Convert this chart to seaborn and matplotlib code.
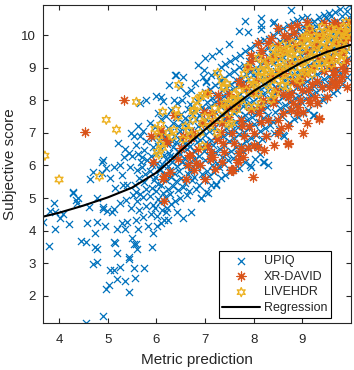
import numpy as np
import pandas as pd
import seaborn as sns
import matplotlib
matplotlib.use("Agg")
from matplotlib import pyplot as plt

# series names and colours (MATLAB default order)
series_names = ["UPIQ", "XR-DAVID", "LIVEHDR"]
series_colors = ["#0072BD", "#D95319", "#EDB120"]

x_ticks = [4, 5, 6, 7, 8, 9]
y_ticks = [2, 3, 4, 5, 6, 7, 8, 9, 10]

# UPIQ points (metric prediction, subjective score)
upiq_pts = [
    # sparse low-left part
    (3.67, 4.28), (3.90, 4.86), (3.81, 4.59), (4.02, 4.40), (3.92, 4.04), (3.79, 3.52),
    (4.21, 4.22), (4.29, 5.17), (4.39, 5.01), (4.37, 4.86), (4.58, 4.25), (4.45, 3.67),
    (4.56, 3.64), (4.70, 2.97), (4.78, 3.03), (4.74, 3.49), (4.79, 3.43), (4.73, 3.94),
    (4.79, 4.28), (4.78, 5.01), (4.62, 4.74), (4.91, 4.65), (4.99, 4.59), (5.09, 4.56),
    (4.95, 4.13), (5.05, 2.81), (5.12, 2.81), (4.97, 2.20), (5.03, 2.32), (5.20, 2.51),
    (5.26, 2.90), (5.20, 3.33), (5.14, 3.61), (5.30, 4.25), (5.36, 4.04), (5.20, 4.04),
    (5.40, 4.28), (5.36, 2.45), (5.43, 2.11), (5.43, 3.12), (5.53, 2.87), (5.57, 2.54),
    (5.59, 3.58), (5.61, 3.43), (5.49, 3.79), (5.74, 2.87), (5.92, 3.49), (4.91, 1.38),
    (4.56, 1.16), (5.63, 4.04), (5.82, 4.13), (5.94, 3.94), (6.02, 4.13), (6.15, 4.34),
    (6.19, 4.56), (5.12, 3.64), (5.43, 3.18), (5.53, 3.58), (4.91, 6.18), (4.70, 5.81),
    (4.29, 5.20), (4.35, 4.95), (3.92, 4.56), (4.08, 4.50), (5.22, 6.70), (5.26, 6.02),
    (5.05, 5.63), (4.97, 5.93), (5.47, 7.00), (5.32, 5.41), (5.59, 5.20), (4.91, 4.74),
    (5.12, 4.65), (5.38, 4.95), (5.30, 5.70), (5.45, 5.95), (5.50, 6.30), (5.35, 6.50),
    (5.48, 4.70), (5.52, 5.10), (5.40, 5.40), (5.15, 5.30), (5.25, 4.85), (5.53, 6.91),
    (5.43, 6.39), (5.71, 6.27), (4.89, 6.12), (4.89, 5.78), (4.64, 5.57), (5.12, 5.96),
    (5.33, 6.27), (5.78, 8.01), (5.67, 7.92), (6.09, 8.10), (6.36, 8.01), (6.25, 8.47),
    (6.54, 4.40), (6.71, 4.56), (6.91, 5.01), (7.06, 5.17), (7.22, 5.41), (6.09, 4.25),
    (6.23, 4.34), (7.95, 5.96), (8.30, 6.02), (8.19, 6.12), (7.70, 5.93), (9.23, 7.55),
    (8.61, 6.94), (9.45, 8.10), (7.14, 9.36), (6.85, 9.08), (6.98, 8.93), (6.95, 8.72),
    (6.54, 8.72), (7.02, 8.56), (6.40, 8.78), (7.33, 8.62), (8.40, 10.36), (8.15, 10.18),
    (7.88, 10.09),
    # dense band
    (5.58, 4.32), (5.64, 4.63), (5.61, 4.92), (5.67, 5.14), (5.57, 5.41), (5.65, 5.62),
    (5.60, 5.87), (5.68, 6.12), (5.62, 6.36), (5.59, 6.63), (5.66, 6.91), (5.63, 7.22),
    (5.73, 4.41), (5.78, 4.77), (5.72, 5.03), (5.79, 5.27), (5.74, 5.49), (5.77, 5.73),
    (5.71, 5.96), (5.80, 6.18), (5.75, 6.47), (5.78, 6.74), (5.73, 7.06),
    (5.88, 4.52), (5.93, 4.79), (5.86, 5.06), (5.91, 5.31), (5.95, 5.54), (5.87, 5.82),
    (5.92, 6.01), (5.89, 6.29), (5.94, 6.56), (5.90, 6.84), (5.86, 7.31),
    (6.02, 4.46), (5.98, 4.71), (6.04, 4.98), (6.00, 5.22), (6.03, 5.44), (5.97, 5.66),
    (6.05, 5.91), (6.01, 6.09), (5.99, 6.37), (6.04, 6.61), (6.02, 6.92), (5.98, 7.19),
    (6.03, 7.62), (6.00, 8.12),
    (6.12, 4.62), (6.08, 4.88), (6.14, 5.16), (6.09, 5.39), (6.13, 5.61), (6.07, 5.86),
    (6.11, 6.04), (6.15, 6.31), (6.10, 6.52), (6.06, 6.76), (6.12, 7.01), (6.09, 7.41),
    (6.14, 7.98),
    (6.22, 4.69), (6.18, 5.02), (6.24, 5.29), (6.20, 5.56), (6.17, 5.74), (6.23, 5.97),
    (6.19, 6.21), (6.25, 6.39), (6.21, 6.66), (6.18, 6.88), (6.24, 7.16), (6.20, 7.52),
    (6.31, 4.81), (6.28, 5.12), (6.34, 5.38), (6.30, 5.66), (6.27, 5.86), (6.33, 6.11),
    (6.29, 6.29), (6.35, 6.57), (6.32, 6.74), (6.28, 7.02), (6.34, 7.29), (6.30, 7.71),
    (6.42, 4.56), (6.38, 4.91), (6.44, 5.24), (6.40, 5.51), (6.37, 5.76), (6.43, 5.99),
    (6.39, 6.22), (6.45, 6.44), (6.41, 6.71), (6.38, 6.94), (6.44, 7.21), (6.40, 7.49),
    (6.42, 7.91), (6.39, 8.76),
    (6.48, 5.01), (6.54, 5.34), (6.50, 5.62), (6.47, 5.84), (6.53, 6.12), (6.49, 6.34),
    (6.55, 6.56), (6.51, 6.79), (6.48, 7.06), (6.54, 7.31), (6.50, 7.59), (6.52, 8.01),
    (6.49, 8.41),
    (6.62, 5.09), (6.58, 5.46), (6.64, 5.74), (6.60, 6.02), (6.57, 6.24), (6.63, 6.51),
    (6.59, 6.69), (6.65, 6.96), (6.61, 7.19), (6.58, 7.46), (6.64, 7.74), (6.60, 8.21),
    (6.68, 5.21), (6.74, 5.54), (6.70, 5.86), (6.67, 6.09), (6.73, 6.36), (6.69, 6.59),
    (6.75, 6.86), (6.71, 7.09), (6.68, 7.36), (6.74, 7.61), (6.70, 7.89), (6.72, 8.31),
    (6.82, 5.29), (6.78, 5.66), (6.84, 5.94), (6.80, 6.21), (6.77, 6.44), (6.83, 6.71),
    (6.79, 6.94), (6.85, 7.21), (6.81, 7.44), (6.78, 7.71), (6.84, 7.99), (6.80, 8.52),
    (6.92, 4.99), (6.88, 5.41), (6.94, 5.74), (6.90, 6.06), (6.87, 6.29), (6.93, 6.56),
    (6.89, 6.79), (6.95, 7.06), (6.91, 7.29), (6.88, 7.56), (6.94, 7.79), (6.90, 8.11),
    (7.02, 5.19), (6.98, 5.56), (7.04, 5.84), (7.00, 6.16), (6.97, 6.44), (7.03, 6.71),
    (6.99, 6.94), (7.05, 7.21), (7.01, 7.44), (6.98, 7.71), (7.04, 7.94), (7.00, 8.26),
    (7.02, 8.59), (6.99, 9.31),
    (7.12, 5.41), (7.08, 5.69), (7.14, 6.01), (7.10, 6.29), (7.07, 6.56), (7.13, 6.79),
    (7.09, 7.06), (7.15, 7.29), (7.11, 7.56), (7.08, 7.79), (7.14, 8.06), (7.10, 8.34),
    (7.12, 8.76),
    (7.22, 5.44), (7.18, 5.81), (7.24, 6.09), (7.20, 6.41), (7.17, 6.64), (7.23, 6.91),
    (7.19, 7.14), (7.25, 7.41), (7.21, 7.64), (7.18, 7.91), (7.24, 8.14), (7.20, 8.46),
    (7.22, 8.84),
    (7.32, 5.61), (7.28, 5.94), (7.34, 6.26), (7.30, 6.49), (7.27, 6.81), (7.33, 7.04),
    (7.29, 7.31), (7.35, 7.54), (7.31, 7.81), (7.28, 8.04), (7.34, 8.31), (7.30, 8.59),
    (7.32, 9.01), (7.29, 9.51),
    (7.42, 5.71), (7.38, 6.04), (7.44, 6.36), (7.40, 6.64), (7.37, 6.91), (7.43, 7.14),
    (7.39, 7.41), (7.45, 7.64), (7.41, 7.91), (7.38, 8.14), (7.44, 8.41), (7.40, 8.69),
    (7.42, 9.11),
    (7.52, 5.79), (7.48, 6.16), (7.54, 6.44), (7.50, 6.76), (7.47, 6.99), (7.53, 7.26),
    (7.49, 7.49), (7.55, 7.76), (7.51, 7.99), (7.48, 8.26), (7.54, 8.49), (7.50, 8.81),
    (7.52, 9.19), (7.49, 9.71),
    (7.62, 5.91), (7.58, 6.24), (7.64, 6.56), (7.60, 6.84), (7.57, 7.11), (7.63, 7.34),
    (7.59, 7.61), (7.65, 7.84), (7.61, 8.11), (7.58, 8.34), (7.64, 8.61), (7.60, 8.89),
    (7.62, 9.31),
    (7.68, 6.36), (7.74, 6.64), (7.70, 6.96), (7.67, 7.19), (7.73, 7.46), (7.69, 7.69),
    (7.75, 7.96), (7.71, 8.19), (7.68, 8.46), (7.74, 8.69), (7.70, 9.01), (7.72, 9.39),
    (7.69, 10.11),
    (7.82, 6.11), (7.78, 6.44), (7.84, 6.76), (7.80, 7.04), (7.77, 7.31), (7.83, 7.54),
    (7.79, 7.81), (7.85, 8.04), (7.81, 8.31), (7.78, 8.54), (7.84, 8.81), (7.80, 9.09),
    (7.82, 9.51), (7.82, 10.43),
    (7.92, 6.01), (7.88, 6.56), (7.94, 6.84), (7.90, 7.16), (7.87, 7.39), (7.93, 7.66),
    (7.89, 7.89), (7.95, 8.16), (7.91, 8.39), (7.88, 8.66), (7.94, 8.89), (7.90, 9.21),
    (7.92, 9.59),
    (8.02, 6.19), (7.98, 6.61), (8.04, 6.94), (8.00, 7.26), (7.97, 7.49), (8.03, 7.76),
    (7.99, 7.99), (8.05, 8.26), (8.01, 8.49), (7.98, 8.76), (8.04, 8.99), (8.00, 9.31),
    (8.02, 9.69),
    (8.12, 6.36), (8.08, 6.69), (8.14, 7.06), (8.10, 7.34), (8.07, 7.61), (8.13, 7.84),
    (8.09, 8.11), (8.15, 8.34), (8.11, 8.61), (8.08, 8.84), (8.14, 9.11), (8.10, 9.39),
    (8.12, 9.81), (8.15, 10.30),
    (8.22, 6.11), (8.18, 6.81), (8.24, 7.14), (8.20, 7.46), (8.17, 7.69), (8.23, 7.96),
    (8.19, 8.19), (8.25, 8.46), (8.21, 8.69), (8.18, 8.96), (8.24, 9.19), (8.20, 9.51),
    (8.22, 9.84), (8.15, 10.52),
    (8.28, 6.91), (8.34, 7.24), (8.30, 7.56), (8.27, 7.79), (8.33, 8.06), (8.29, 8.29),
    (8.35, 8.56), (8.31, 8.79), (8.28, 9.06), (8.34, 9.29), (8.30, 9.61), (8.32, 9.89),
    (8.42, 6.99), (8.38, 7.36), (8.44, 7.64), (8.40, 7.91), (8.37, 8.14), (8.43, 8.41),
    (8.39, 8.64), (8.45, 8.91), (8.41, 9.14), (8.38, 9.41), (8.44, 9.69), (8.40, 10.01),
    (8.42, 10.41),
    (8.52, 7.11), (8.48, 7.44), (8.54, 7.76), (8.50, 7.99), (8.47, 8.26), (8.53, 8.49),
    (8.49, 8.76), (8.55, 8.99), (8.51, 9.26), (8.48, 9.49), (8.54, 9.81), (8.50, 10.09),
    (8.62, 6.91), (8.58, 7.51), (8.64, 7.84), (8.60, 8.11), (8.57, 8.34), (8.63, 8.61),
    (8.59, 8.84), (8.65, 9.11), (8.61, 9.34), (8.58, 9.61), (8.64, 9.89), (8.60, 10.21),
    (8.72, 7.29), (8.68, 7.66), (8.74, 7.94), (8.70, 8.21), (8.67, 8.44), (8.73, 8.71),
    (8.69, 8.94), (8.75, 9.21), (8.71, 9.44), (8.68, 9.71), (8.74, 9.99), (8.70, 10.31),
    (8.77, 10.76),
    (8.82, 7.41), (8.78, 7.74), (8.84, 8.06), (8.80, 8.29), (8.77, 8.56), (8.83, 8.79),
    (8.79, 9.06), (8.85, 9.29), (8.81, 9.56), (8.78, 9.79), (8.84, 10.11), (8.80, 10.39),
    (8.92, 7.49), (8.88, 7.86), (8.94, 8.14), (8.90, 8.41), (8.87, 8.64), (8.93, 8.91),
    (8.89, 9.14), (8.95, 9.41), (8.91, 9.64), (8.88, 9.91), (8.94, 10.19), (8.90, 10.46),
    (9.02, 7.61), (8.98, 7.94), (9.04, 8.26), (9.00, 8.49), (8.97, 8.76), (9.03, 8.99),
    (8.99, 9.26), (9.05, 9.49), (9.01, 9.76), (8.98, 9.99), (9.04, 10.26), (9.00, 10.51),
    (9.12, 7.71), (9.08, 8.04), (9.14, 8.36), (9.10, 8.59), (9.07, 8.86), (9.13, 9.09),
    (9.09, 9.36), (9.15, 9.59), (9.11, 9.86), (9.08, 10.09), (9.14, 10.36), (9.10, 10.56),
    (9.22, 7.56), (9.18, 8.16), (9.24, 8.44), (9.20, 8.71), (9.17, 8.94), (9.23, 9.21),
    (9.19, 9.44), (9.25, 9.71), (9.21, 9.94), (9.18, 10.21), (9.24, 10.44),
    (9.32, 7.91), (9.28, 8.24), (9.34, 8.56), (9.30, 8.79), (9.27, 9.06), (9.33, 9.29),
    (9.29, 9.56), (9.35, 9.79), (9.31, 10.06), (9.28, 10.29), (9.34, 10.54),
    (9.42, 8.01), (9.38, 8.36), (9.44, 8.64), (9.40, 8.91), (9.37, 9.14), (9.43, 9.41),
    (9.39, 9.64), (9.45, 9.91), (9.41, 10.14), (9.38, 10.41), (9.44, 10.61),
    (9.48, 8.46), (9.54, 8.74), (9.50, 9.01), (9.47, 9.24), (9.53, 9.51), (9.49, 9.74),
    (9.55, 10.01), (9.51, 10.24), (9.48, 10.51), (9.54, 10.69),
    (9.62, 8.21), (9.58, 8.54), (9.64, 8.86), (9.60, 9.09), (9.57, 9.36), (9.63, 9.59),
    (9.59, 9.86), (9.65, 10.09), (9.61, 10.36), (9.58, 10.59),
    (9.72, 8.31), (9.68, 8.66), (9.74, 8.94), (9.70, 9.21), (9.67, 9.44), (9.73, 9.71),
    (9.69, 9.94), (9.75, 10.21), (9.71, 10.44), (9.68, 10.71),
    (9.82, 8.49), (9.78, 8.81), (9.84, 9.09), (9.80, 9.36), (9.77, 9.59), (9.83, 9.86),
    (9.79, 10.09), (9.85, 10.36), (9.81, 10.59), (9.78, 10.79),
    (9.92, 8.71), (9.88, 8.99), (9.94, 9.31), (9.90, 9.54), (9.87, 9.81), (9.93, 10.04),
    (9.89, 10.31), (9.95, 10.56), (9.91, 10.74), (9.96, 10.91),
]

# XR-DAVID points
xrdavid_pts = [
    (4.54, 7.03), (5.34, 8.01), (5.88, 6.91), (6.07, 7.00), (6.21, 6.73), (5.94, 6.12),
    (6.36, 7.55), (6.15, 5.69), (6.29, 5.81), (6.15, 4.92), (6.13, 5.57), (7.99, 5.66),
    (7.55, 5.87), (7.68, 6.12), (7.70, 6.39), (8.01, 6.64), (8.42, 6.64), (8.71, 6.67),
    (9.10, 7.31), (9.35, 7.43), (9.02, 7.65), (8.57, 7.16), (8.50, 7.00), (8.15, 7.34),
    (7.88, 6.54), (8.09, 6.57), (8.21, 6.48), (9.68, 8.47), (9.81, 9.02), (9.81, 8.72),
    (9.50, 8.10), (6.09, 7.09), (6.19, 6.79), (6.50, 6.54), (6.67, 6.33), (6.77, 5.87),
    (6.81, 6.08), (7.06, 8.23), (7.26, 8.17), (6.98, 7.65), (7.16, 7.31), (7.33, 7.03),
    (7.12, 6.42), (7.37, 6.70), (7.53, 5.87), (7.68, 6.18), (7.74, 6.54), (7.74, 7.40),
    (7.74, 8.47), (7.60, 7.80), (7.47, 7.49), (6.71, 6.85), (8.63, 10.00), (8.77, 10.25),
    (9.12, 10.21), (9.45, 10.36), (9.74, 10.30), (9.95, 10.40), (9.87, 9.85), (9.81, 9.45),
    (8.30, 9.76), (8.09, 9.76), (8.15, 9.54), (7.95, 9.39), (8.42, 9.33), (7.88, 9.02),
    (8.63, 8.84), (8.98, 8.62), (9.12, 8.32), (9.25, 8.10), (8.77, 8.23), (8.42, 8.01),
    (8.15, 7.80), (8.77, 7.71), (9.14, 8.01), (9.66, 8.78), (9.60, 9.02), (9.54, 9.24),
    (9.81, 10.06), (8.83, 10.06), (9.33, 9.94), (8.92, 7.80), (8.01, 8.23), (7.78, 6.27),
    (7.57, 5.87), (7.16, 6.27), (8.71, 6.70), (9.02, 7.00), (9.35, 7.46), (9.70, 8.47),
    (8.45, 8.30), (8.55, 8.90), (8.60, 9.50), (8.70, 8.10), (8.75, 9.10), (8.85, 9.70),
    (8.90, 8.50), (8.95, 9.20), (9.00, 9.90), (9.05, 8.80), (9.10, 9.50), (9.15, 10.10),
    (9.20, 9.00), (9.25, 9.70), (9.30, 8.60), (9.35, 9.30), (9.40, 10.00), (9.45, 8.90),
    (9.50, 9.60), (9.55, 10.20), (9.60, 9.30), (9.65, 8.90), (9.70, 9.80), (9.75, 10.20),
    (9.80, 9.60), (9.85, 10.10), (9.90, 9.20), (9.93, 9.90), (9.88, 8.90), (9.60, 8.60),
    (9.40, 8.40), (9.20, 8.50), (8.95, 8.00), (8.80, 8.60), (8.60, 8.20), (8.50, 9.70),
    (8.35, 8.70), (8.25, 9.20), (8.20, 8.00), (8.05, 8.60), (7.95, 7.70), (7.85, 8.40),
    (7.75, 7.20), (7.65, 7.90), (7.55, 7.00), (7.45, 7.80), (7.35, 7.30), (7.25, 6.80),
    (7.15, 7.60), (7.05, 6.60), (6.95, 7.30), (6.85, 6.50), (6.75, 7.00), (6.65, 6.00),
    (6.55, 6.90), (6.45, 6.20), (7.90, 7.20), (8.10, 7.60), (8.30, 7.40), (8.40, 7.90),
    (8.60, 7.60), (8.80, 7.90), (9.00, 8.30), (9.30, 7.90), (9.55, 8.40), (9.75, 8.60),
    (9.92, 8.40), (8.70, 9.90), (8.90, 10.30), (9.10, 10.40), (9.65, 10.40), (8.50, 10.20),
    (8.35, 9.90), (8.15, 9.40), (7.95, 9.20), (7.70, 8.60), (7.50, 8.20), (7.30, 7.90),
    (7.10, 6.20), (7.40, 6.40), (7.60, 6.70), (7.80, 6.90), (8.00, 7.00), (8.25, 6.90),
    (8.50, 7.40), (8.70, 7.20), (8.90, 7.60), (9.15, 7.90), (6.90, 6.00), (7.20, 5.90),
    (7.35, 6.10), (6.60, 5.60), (6.70, 6.30), (7.00, 5.60),
]

# LIVEHDR points
livehdr_pts = [
    (3.71, 6.30), (4.97, 7.40), (5.18, 7.10), (5.59, 7.95), (4.00, 5.57), (4.83, 5.66),
    (6.13, 7.65), (6.46, 8.47), (7.26, 8.84), (6.95, 8.17), (6.81, 8.01), (6.77, 7.71),
    (6.09, 7.25), (6.36, 7.09), (6.33, 6.88), (6.13, 6.54), (6.05, 6.33), (6.67, 7.09),
    (7.39, 8.41), (7.47, 7.92), (7.49, 7.25), (7.88, 9.02), (8.15, 8.87), (6.40, 7.71),
    (6.91, 8.10), (6.75, 7.65), (7.68, 8.01), (8.01, 7.80), (8.36, 8.01), (6.02, 6.42),
    (6.09, 6.64), (6.25, 7.00), (7.60, 8.01), (7.39, 8.38), (5.97, 7.12), (6.05, 6.90),
    (8.00, 8.50), (8.05, 8.90), (8.10, 8.20), (8.15, 8.70), (8.20, 9.10), (8.25, 8.50),
    (8.30, 8.90), (8.35, 8.30), (8.40, 8.75), (8.45, 9.15), (8.50, 8.60), (8.55, 9.00),
    (8.60, 8.45), (8.65, 9.30), (8.70, 8.85), (8.75, 9.60), (8.80, 9.10), (8.85, 8.70),
    (8.90, 9.40), (8.95, 9.00), (9.00, 9.55), (9.05, 9.20), (9.10, 8.90), (9.15, 9.60),
    (9.20, 9.35), (9.25, 9.00), (9.30, 9.70), (9.35, 9.45), (9.40, 9.15), (9.45, 9.80),
    (9.50, 9.50), (9.55, 9.20), (9.60, 9.85), (9.65, 9.60), (9.70, 9.30), (9.75, 10.00),
    (9.80, 9.70), (9.85, 9.40), (9.90, 9.95), (9.93, 10.20), (9.70, 10.15), (9.50, 10.05),
    (9.25, 9.95), (9.00, 9.85), (8.75, 9.45), (8.50, 9.30), (8.25, 8.95), (8.00, 8.20),
    (7.85, 8.30), (7.75, 8.00), (7.65, 7.70), (7.60, 8.20), (7.50, 7.60), (7.40, 7.90),
    (7.30, 7.40), (7.20, 7.75), (7.10, 7.20), (7.00, 7.50), (6.90, 7.00), (6.85, 7.80),
    (6.75, 7.40), (6.60, 7.20), (6.55, 6.80), (6.45, 7.50), (7.45, 8.50), (7.80, 8.80),
    (8.10, 9.30), (8.40, 9.60), (8.60, 9.70), (9.10, 9.95), (8.45, 8.20), (8.70, 8.40),
    (8.95, 8.60), (9.20, 8.80), (9.45, 9.00), (9.60, 9.10), (9.80, 9.20), (9.15, 10.20),
    (9.40, 10.25), (9.90, 10.40), (7.90, 7.80), (8.15, 7.90), (7.55, 7.30), (7.25, 7.00),
    (6.95, 6.60), (6.70, 6.90), (7.05, 8.20), (7.35, 8.60),
    (8.30, 9.20), (8.35, 8.60), (8.40, 9.35), (8.45, 8.85), (8.50, 9.50), (8.55, 8.75),
    (8.60, 9.05), (8.65, 8.60), (8.70, 9.55), (8.75, 9.00), (8.80, 9.75), (8.85, 9.25),
    (8.90, 8.85), (8.95, 9.65), (9.00, 9.15), (9.05, 8.85), (9.10, 9.75), (9.15, 9.30),
    (9.20, 9.85), (9.25, 9.45), (9.30, 9.10), (9.35, 9.90), (9.40, 9.60), (9.45, 9.30),
    (9.50, 9.95), (9.55, 9.70), (9.60, 9.40), (9.65, 10.05), (9.70, 9.75), (9.75, 9.50),
    (9.80, 10.10), (9.85, 9.85), (9.90, 9.60), (9.95, 10.05), (9.85, 10.25), (9.60, 10.20),
    (9.35, 10.10), (9.05, 9.95), (8.80, 9.40), (8.55, 9.45), (8.20, 8.70), (8.05, 8.45),
    (7.95, 8.60), (7.70, 8.30), (7.55, 8.00), (7.35, 7.70), (7.15, 7.50), (6.95, 7.30),
]

# regression curve
reg_x = [3.67, 4.0, 4.5, 5.0, 5.5, 6.0, 6.25, 6.5, 6.75, 7.0, 7.5, 8.0, 8.5, 9.0, 9.5, 10.0]
reg_y = [4.43, 4.55, 4.77, 5.02, 5.32, 5.78, 6.10, 6.45, 6.78, 7.10, 7.72, 8.28, 8.75, 9.17, 9.48, 9.70]


def to_frame(pts, name):
    xs, ys = zip(*pts)
    return pd.DataFrame({"pred": xs, "score": ys, "set": name})


df = pd.concat(
    [to_frame(upiq_pts, "UPIQ"), to_frame(xrdavid_pts, "XR-DAVID"), to_frame(livehdr_pts, "LIVEHDR")],
    ignore_index=True,
)

sns.set_style("ticks")
plt.rcParams["font.family"] = ["Liberation Sans", "DejaVu Sans"]
TXT = "#262626"

fig = plt.figure(figsize=(3.54, 3.70), dpi=100)
ax = fig.add_axes([43 / 354, 47 / 370, 308 / 354, 318 / 370])

marker_kw = {
    "UPIQ": dict(marker="x", s=26, linewidth=0.9),
    "XR-DAVID": dict(marker=(8, 2, 0), s=42, linewidth=0.85),
    "LIVEHDR": dict(marker=(6, 1, 0), s=42, linewidth=1.0),
}

for name, col in zip(series_names, series_colors):
    sub = df[df["set"] == name]
    kw = marker_kw[name]
    if name == "LIVEHDR":
        sns.scatterplot(data=sub, x="pred", y="score", ax=ax, label=name,
                        facecolor="none", edgecolor=col, color=col, **kw)
    else:
        sns.scatterplot(data=sub, x="pred", y="score", ax=ax, label=name, color=col, **kw)

sns.lineplot(x=reg_x, y=reg_y, ax=ax, color="black", linewidth=1.5, label="Regression")

ax.set_xlim(3.67, 10.0)
ax.set_ylim(1.17, 10.92)
ax.set_xticks(x_ticks)
ax.set_yticks(y_ticks)
ax.tick_params(direction="in", top=True, right=True, length=3.5, width=0.8,
               labelsize=9.5, colors=TXT)
ax.tick_params(axis="x", pad=8)
ax.tick_params(axis="y", pad=5)
for sp in ax.spines.values():
    sp.set_linewidth(0.8)
    sp.set_color(TXT)
    sp.set_visible(True)

ax.set_xlabel("Metric prediction", fontsize=11, color=TXT, labelpad=5)
ax.set_ylabel("Subjective score", fontsize=11, color=TXT, labelpad=3)

leg = ax.legend(loc="lower right", bbox_to_anchor=(0.935, 0.016), fontsize=9,
                frameon=True, fancybox=False, edgecolor="black", framealpha=1,
                handlelength=3.0, handletextpad=0.3, labelspacing=0.3,
                borderpad=0.3, borderaxespad=0)
leg.get_frame().set_linewidth(0.8)

fig.savefig("out.png", dpi=100)
